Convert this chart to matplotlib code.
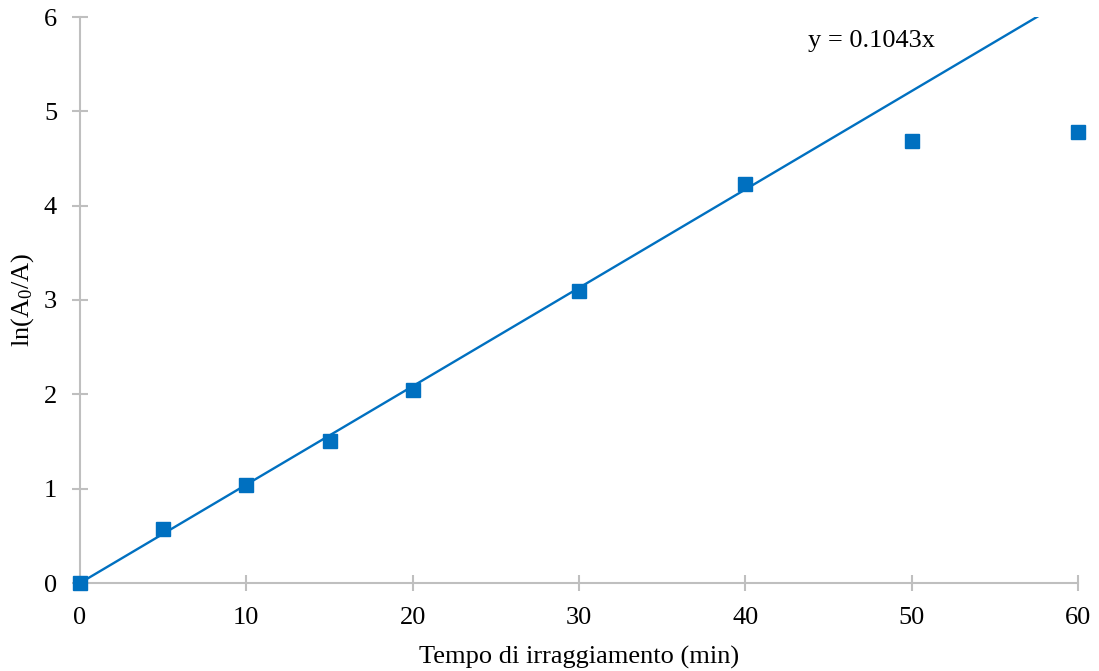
import matplotlib
matplotlib.use("Agg")
import matplotlib.pyplot as plt
import numpy as np

plt.rcParams['font.family'] = ['Liberation Serif', 'DejaVu Serif']
plt.rcParams['mathtext.fontset'] = 'custom'
plt.rcParams['mathtext.rm'] = 'Liberation Serif'
plt.rcParams['mathtext.it'] = 'Liberation Serif:italic'

# irradiation time (min) and ln(A0/A)
time_min = [0, 5, 10, 15, 20, 30, 40, 50, 60]
ln_ratio = [0.0, 0.57, 1.04, 1.51, 2.05, 3.10, 4.23, 4.69, 4.78]
slope = 0.1043
x_ticks = [0, 10, 20, 30, 40, 50, 60]
y_ticks = [0, 1, 2, 3, 4, 5, 6]

blue = '#0070C0'
axis_gray = '#BFBFBF'
fs = 19

fig = plt.figure(figsize=(10.99, 6.71), dpi=100)
ax = fig.add_axes([80 / 1099, 88 / 671, 998 / 1099, 566 / 671])

fit_x = np.array([0, 60])
ax.plot(fit_x, slope * fit_x, color=blue, lw=1.7, zorder=2)
ax.plot(time_min, ln_ratio, linestyle='none', marker='s', markersize=10,
        color=blue, clip_on=False, zorder=3)

ax.set_xlim(0, 60)
ax.set_ylim(0, 6)
ax.set_xticks(x_ticks)
ax.set_yticks(y_ticks)

for side in ('top', 'right'):
    ax.spines[side].set_visible(False)
for side in ('left', 'bottom'):
    ax.spines[side].set_color(axis_gray)
    ax.spines[side].set_linewidth(1.5)

ax.tick_params(axis='both', direction='inout', length=11, width=1.5,
               color=axis_gray, labelsize=fs, labelcolor='black')
ax.tick_params(axis='x', pad=12)
ax.tick_params(axis='y', pad=11)

ax.set_xlabel('Tempo di irraggiamento (min)', fontsize=fs, labelpad=12)
ax.set_ylabel('ln(A$_0$/A)', fontsize=fs, labelpad=6)

ax.text(43.77, 5.75, 'y = 0.1043x', fontsize=fs, ha='left', va='center')

fig.savefig('out.png', dpi=100)
